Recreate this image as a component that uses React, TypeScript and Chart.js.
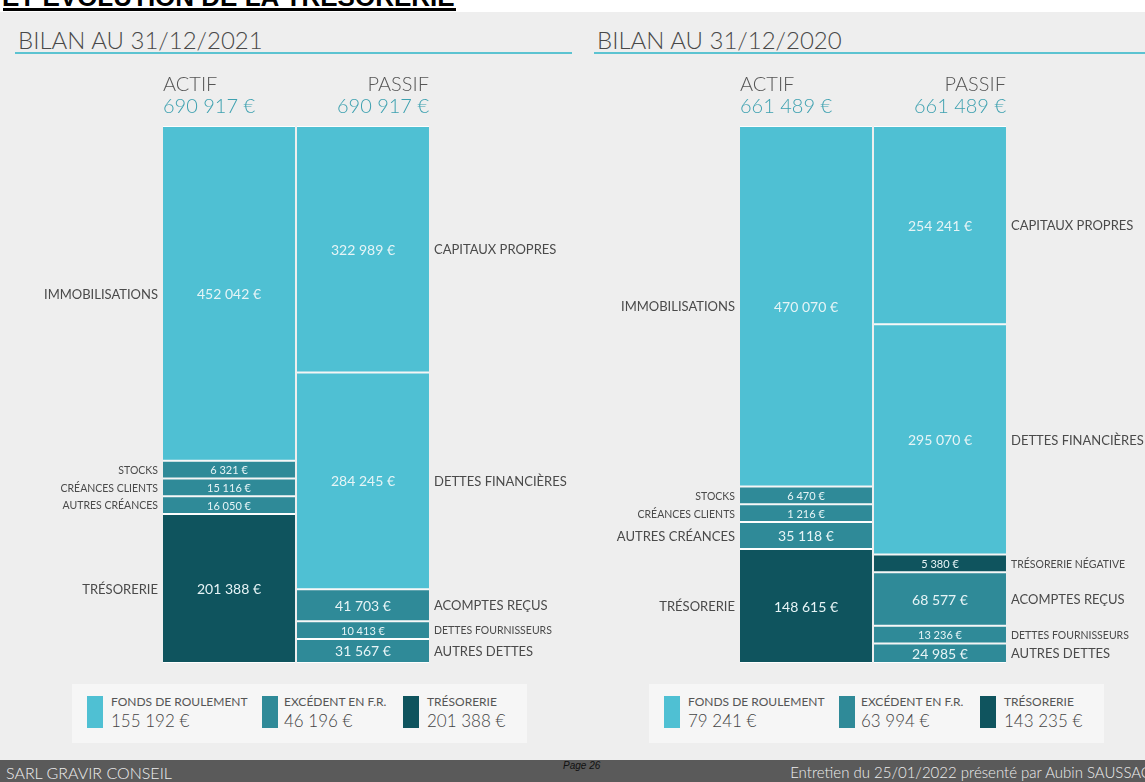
import React, { useEffect, useRef } from 'react';
import { Chart, registerables } from 'chart.js';

Chart.register(...registerables);

// ---- Data ----
const columnLabels = ['ACTIF', 'PASSIF'];

// 2021 balance sheet (stacked bottom -> top)
const actifLabels2021 = ['TRÉSORERIE', 'AUTRES CRÉANCES', 'CRÉANCES CLIENTS', 'STOCKS', 'IMMOBILISATIONS'];
const actifValues2021 = [201388, 16050, 15116, 6321, 452042];
const actifGroups2021 = ['T', 'B', 'B', 'B', 'F'];
const passifLabels2021 = ['AUTRES DETTES', 'DETTES FOURNISSEURS', 'ACOMPTES REÇUS', 'DETTES FINANCIÈRES', 'CAPITAUX PROPRES'];
const passifValues2021 = [31567, 10413, 41703, 284245, 322989];
const passifGroups2021 = ['B', 'B', 'B', 'F', 'F'];

// 2020 balance sheet (stacked bottom -> top)
const actifLabels2020 = ['TRÉSORERIE', 'AUTRES CRÉANCES', 'CRÉANCES CLIENTS', 'STOCKS', 'IMMOBILISATIONS'];
const actifValues2020 = [148615, 35118, 1216, 6470, 470070];
const actifGroups2020 = ['T', 'B', 'B', 'B', 'F'];
const passifLabels2020 = ['AUTRES DETTES', 'DETTES FOURNISSEURS', 'ACOMPTES REÇUS', 'TRÉSORERIE NÉGATIVE', 'DETTES FINANCIÈRES', 'CAPITAUX PROPRES'];
const passifValues2020 = [24985, 13236, 68577, 5380, 295070, 254241];
const passifGroups2020 = ['B', 'B', 'B', 'T', 'F', 'F'];

// Legend summary
const legendLabels = ['FONDS DE ROULEMENT', 'EXCÉDENT EN F.R.', 'TRÉSORERIE'];
const legendGroups = ['F', 'B', 'T'];
const legendValues2021 = [155192, 46196, 201388];
const legendValues2020 = [79241, 63994, 143235];

const panelTitles = ['BILAN AU 31/12/2021', 'BILAN AU 31/12/2020'];

// ---- Styles ----
const GROUP_COLORS: Record<string, string> = { F: '#4fc0d3', B: '#2f8a98', T: '#0f545e' };
const FONT = 'Lato, "Open Sans", sans-serif';
const SMALL_VALUE = 20000; // segments below this use the compact label style
const MIN_SHARE = 0.033; // the reference gives tiny segments a minimum drawn height

function fmt(v: number) {
  return String(v).replace(/\B(?=(\d{3})+(?!\d))/g, ' ') + ' €';
}

function sum(a: number[]) {
  return a.reduce((s, v) => s + v, 0);
}

// Drawn heights: small segments get a minimum share, the rest is shared proportionally
function drawnHeights(values: number[]) {
  const total = sum(values);
  const small = values.map((v) => v / total < MIN_SHARE);
  const nSmall = small.filter(Boolean).length;
  const bigSum = sum(values.filter((_, i) => !small[i]));
  const rest = total * (1 - nSmall * MIN_SHARE);
  return values.map((v, i) => (small[i] ? total * MIN_SHARE : (v / bigSum) * rest));
}

const labelPlugin = {
  id: 'bilanLabels',
  afterDatasetsDraw(chart: any) {
    const ctx = chart.ctx;
    const area = chart.chartArea;
    const totals = [0, 0];
    const colEdges: any[] = [null, null];
    ctx.save();
    chart.data.datasets.forEach((ds: any, di: number) => {
      const meta = chart.getDatasetMeta(di);
      const el = meta.data[ds.side];
      if (!el) return;
      const p = el.getProps(['x', 'y', 'base', 'width'], true);
      const cy = (p.y + p.base) / 2;
      const small = ds.real < SMALL_VALUE;
      totals[ds.side] += ds.real;
      colEdges[ds.side] = { l: p.x - p.width / 2, r: p.x + p.width / 2 };
      ctx.textBaseline = 'middle';
      // value inside the bar
      ctx.font = `${small ? 11 : 14}px ${FONT}`;
      ctx.fillStyle = '#e6f4f6';
      ctx.textAlign = 'center';
      ctx.fillText(fmt(ds.real), p.x, cy + 1);
      // category label beside the bar
      ctx.font = `${small ? 10.5 : 13}px ${FONT}`;
      ctx.fillStyle = '#4a4a4a';
      if (ds.side === 0) {
        ctx.textAlign = 'right';
        ctx.fillText(ds.label, p.x - p.width / 2 - 5, cy + 1);
      } else {
        ctx.textAlign = 'left';
        ctx.fillText(ds.label, p.x + p.width / 2 + 5, cy + 1);
      }
    });
    // column headers
    ctx.textBaseline = 'alphabetic';
    for (let s = 0; s < 2; s++) {
      const e = colEdges[s];
      if (!e) continue;
      const x = s === 0 ? e.l : e.r;
      ctx.textAlign = s === 0 ? 'left' : 'right';
      ctx.font = `300 20px ${FONT}`;
      ctx.fillStyle = '#555555';
      ctx.fillText(chart.data.labels[s], x, area.top - 35);
      ctx.fillStyle = '#3ea1b0';
      ctx.fillText(fmt(totals[s]), x, area.top - 13);
    }
    ctx.restore();
  },
};

type PanelProps = {
  left: number;
  width: number;
  padLeft: number;
  padRight: number;
  actifLabels: string[];
  actifValues: number[];
  actifGroups: string[];
  passifLabels: string[];
  passifValues: number[];
  passifGroups: string[];
};

function BilanChart(props: PanelProps) {
  const ref = useRef<HTMLCanvasElement>(null);
  useEffect(() => {
    const { actifLabels, actifValues, actifGroups, passifLabels, passifValues, passifGroups } = props;
    const aH = drawnHeights(actifValues);
    const pH = drawnHeights(passifValues);
    const common = {
      borderColor: 'rgba(255,255,255,0.92)',
      borderWidth: { top: 1, bottom: 1, left: 0, right: 0 },
      borderSkipped: false,
      inflateAmount: 0,
      barPercentage: 0.985,
      categoryPercentage: 1,
    };
    const datasets: any[] = [];
    actifValues.forEach((v, i) => {
      datasets.push({
        ...common,
        label: actifLabels[i],
        data: [aH[i], null],
        backgroundColor: GROUP_COLORS[actifGroups[i]],
        real: v,
        side: 0,
      });
    });
    passifValues.forEach((v, i) => {
      datasets.push({
        ...common,
        label: passifLabels[i],
        data: [null, pH[i]],
        backgroundColor: GROUP_COLORS[passifGroups[i]],
        real: v,
        side: 1,
      });
    });
    const total = sum(actifValues);
    const chart = new Chart(ref.current as HTMLCanvasElement, {
      type: 'bar',
      data: { labels: columnLabels, datasets },
      options: {
        responsive: false,
        animation: false,
        devicePixelRatio: 1,
        layout: { padding: { left: props.padLeft, right: props.padRight, top: 66, bottom: 17 } },
        plugins: { legend: { display: false }, tooltip: { enabled: false }, title: { display: false } },
        scales: {
          x: { stacked: true, display: false },
          y: { stacked: true, display: false, min: 0, max: total },
        },
      } as any,
      plugins: [labelPlugin],
    });
    return () => chart.destroy();
  }, []);
  return (
    <canvas
      ref={ref}
      width={props.width}
      height={620}
      style={{ position: 'absolute', left: props.left, top: 60, width: props.width, height: 620 }}
    />
  );
}

function Legend({ left, values }: { left: number; values: number[] }) {
  const swatchX = [15, 190, 331];
  const textX = [39, 212, 355];
  return (
    <div
      style={{
        position: 'absolute',
        left,
        top: 684,
        width: 455,
        height: 59,
        background: '#f6f6f6',
      }}
    >
      {legendLabels.map((lab, i) => (
        <React.Fragment key={lab}>
          <div
            style={{
              position: 'absolute',
              left: swatchX[i],
              top: 12,
              width: 16,
              height: 32,
              background: GROUP_COLORS[legendGroups[i]],
            }}
          />
          <div
            style={{
              position: 'absolute',
              left: textX[i],
              top: 12,
              font: `400 12px/1 ${FONT}`,
              color: '#555',
              whiteSpace: 'nowrap',
            }}
          >
            {lab}
          </div>
          <div
            style={{
              position: 'absolute',
              left: textX[i],
              top: 28,
              font: `300 17px/1 ${FONT}`,
              color: '#444',
              whiteSpace: 'nowrap',
            }}
          >
            {fmt(values[i])}
          </div>
        </React.Fragment>
      ))}
    </div>
  );
}

function PanelHeader({ left, lineWidth, title }: { left: number; lineWidth: number; title: string }) {
  return (
    <>
      <div
        style={{
          position: 'absolute',
          left: left + 3,
          top: 28,
          font: `300 24px/1 ${FONT}`,
          color: '#484848',
          whiteSpace: 'nowrap',
        }}
      >
        {title}
      </div>
      <div style={{ position: 'absolute', left, top: 52, width: lineWidth, height: 2, background: '#5cc3d1' }} />
    </>
  );
}

export default function App() {
  return (
    <div
      style={{
        position: 'absolute',
        left: 0,
        top: 0,
        width: 1145,
        height: 782,
        overflow: 'hidden',
        background: '#eeeeee',
        fontFamily: FONT,
      }}
    >
      {/* cut-off page title */}
      <div style={{ position: 'absolute', left: 0, top: 0, width: 1145, height: 12, background: '#ffffff', overflow: 'hidden' }}>
        <div
          style={{
            position: 'absolute',
            left: 2,
            top: -16,
            font: 'bold 26px/1 "Liberation Sans", Arial, sans-serif',
            color: '#000',
            whiteSpace: 'nowrap',
          }}
        >
          ET ÉVOLUTION DE LA TRÉSORERIE
        </div>
        <div style={{ position: 'absolute', left: 3, top: 8, width: 453, height: 3, background: '#000' }} />
      </div>

      <PanelHeader left={15} lineWidth={557} title={panelTitles[0]} />
      <PanelHeader left={594} lineWidth={551} title={panelTitles[1]} />

      <BilanChart
        left={0}
        width={580}
        padLeft={162}
        padRight={150}
        actifLabels={actifLabels2021}
        actifValues={actifValues2021}
        actifGroups={actifGroups2021}
        passifLabels={passifLabels2021}
        passifValues={passifValues2021}
        passifGroups={passifGroups2021}
      />
      <BilanChart
        left={580}
        width={565}
        padLeft={159}
        padRight={138}
        actifLabels={actifLabels2020}
        actifValues={actifValues2020}
        actifGroups={actifGroups2020}
        passifLabels={passifLabels2020}
        passifValues={passifValues2020}
        passifGroups={passifGroups2020}
      />

      <Legend left={72} values={legendValues2021} />
      <Legend left={649} values={legendValues2020} />

      {/* footer */}
      <div style={{ position: 'absolute', left: 0, top: 760, width: 1145, height: 22, background: '#5a5a5a', overflow: 'hidden' }}>
        <div style={{ position: 'absolute', left: 6, top: 5, font: `300 16px/1 ${FONT}`, color: '#eeeeee', whiteSpace: 'nowrap' }}>
          SARL GRAVIR CONSEIL
        </div>
        <div style={{ position: 'absolute', right: -6, top: 5, font: `300 15px/1 ${FONT}`, color: '#eeeeee', whiteSpace: 'nowrap' }}>
          Entretien du 25/01/2022 présenté par Aubin SAUSSAC
        </div>
        <div style={{ position: 'absolute', left: 563, top: 1, font: 'italic 10px/1 "Liberation Sans", Arial, sans-serif', color: '#111', whiteSpace: 'nowrap' }}>
          Page 26
        </div>
      </div>
    </div>
  );
}
